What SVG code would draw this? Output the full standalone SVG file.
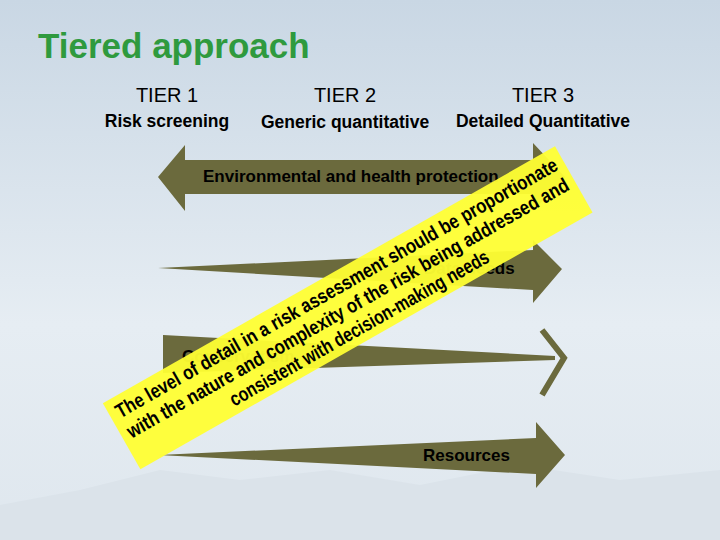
<svg xmlns="http://www.w3.org/2000/svg" width="720" height="540" viewBox="0 0 720 540">
<defs>
<linearGradient id="bg" x1="0" y1="0" x2="0" y2="1">
<stop offset="0" stop-color="#c9d7e4"/><stop offset="0.6" stop-color="#e6edf3"/><stop offset="1" stop-color="#dfe7ee"/>
</linearGradient>
<style>
.t{font-family:"Liberation Sans",Arial,sans-serif;fill:#000}
.h{font-size:20px;text-anchor:middle}
.s{font-size:17.5px;font-weight:bold;text-anchor:middle}
.a{fill:#6b6a3d}
.l{font-size:17px;font-weight:bold}
.y{font-size:20px;font-weight:bold;text-anchor:middle}
</style>
</defs>
<rect width="720" height="540" fill="url(#bg)"/>
<path d="M0 540 L0 505 L80 490 L160 470 L240 480 L330 470 L420 485 L520 465 L620 480 L720 470 L720 540 Z" fill="#dbe3ea"/>
<text class="t" x="38" y="58" style="font-size:35px;font-weight:bold;fill:#2f9a3e">Tiered approach</text>
<g id="tier1"><text class="t h" x="167" y="102">TIER 1</text><text class="t s" x="167" y="127">Risk screening</text></g>
<g id="tier2"><text class="t h" x="345" y="102">TIER 2</text><text class="t s" x="345" y="128">Generic quantitative</text></g>
<g id="tier3"><text class="t h" x="543" y="102">TIER 3</text><text class="t s" x="543" y="127">Detailed Quantitative</text></g>
<g id="connectors">
<g id="protection"><path class="a" d="M158 177 L185 145 L185 160 L533 160 L533 143 L565 177 L533 211 L533 194 L185 194 L185 211 Z"/>
<text class="t l" x="203" y="182">Environmental and health protection</text></g>
<g id="data"><path class="a" d="M158 268 L533 250 L533 240 L562 269 L533 303 L533 290 Z"/>
<text class="t l" x="424" y="274">Data needs</text></g>
<g id="conservatism"><path class="a" d="M163 335 L555 356 L555 360 L163 373 Z"/>
<path d="M542 330 L564 358 L542 395" fill="none" stroke="#6b6a3d" stroke-width="6"/>
<text class="t l" x="182" y="362">Conservatism</text></g>
<g id="resources"><path class="a" d="M158 455 L536 438 L536 422 L565 455 L536 488 L536 474 Z"/>
<text class="t l" x="423" y="461">Resources</text></g>
</g>
<g id="note" transform="rotate(-29.6 347.5 308.5)">
<rect x="88" y="270" width="520" height="76" fill="#ffff33" opacity="0.95"/>
<text class="t y" x="348" y="292" textLength="505" lengthAdjust="spacingAndGlyphs">The level of detail in a risk assessment should be proportionate</text>
<text class="t y" x="348" y="315" textLength="505" lengthAdjust="spacingAndGlyphs">with the nature and complexity of the risk  being addressed and</text>
<text class="t y" x="348" y="338" textLength="295" lengthAdjust="spacingAndGlyphs">consistent with decision-making needs</text>
</g>
</svg>
